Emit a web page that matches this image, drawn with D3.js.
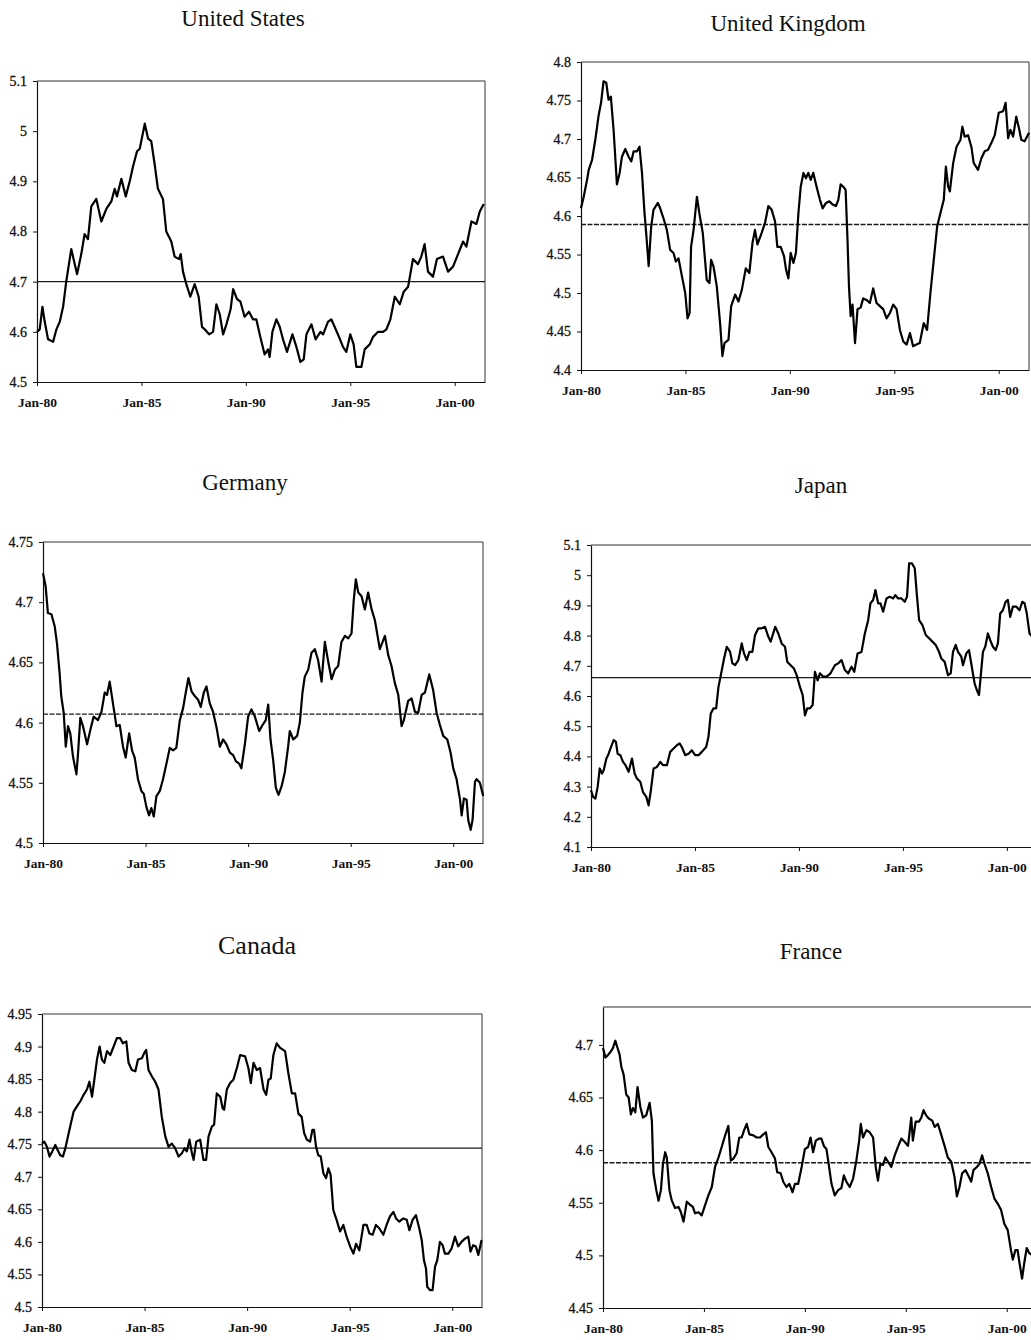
<!DOCTYPE html>
<html>
<head>
<meta charset="utf-8">
<script src="https://cdn.jsdelivr.net/npm/d3@7"></script>
<style>
  body { margin: 0; background: #fff; }
  svg { display: block; }
  svg text { font-family: 'Liberation Serif', 'Times New Roman', serif; }
</style>
</head>
<body>
<svg id="chart" width="1031" height="1340"></svg>
<script>
// Time is measured in years since January 1980.
const xTickYears = [0, 5, 10, 15, 20];
const xTickLabels = ["Jan-80", "Jan-85", "Jan-90", "Jan-95", "Jan-00"];
const xSpan = [0, 21.45];

const countryNames = ["United States", "United Kingdom", "Germany", "Japan", "Canada", "France"];

// [years since Jan-80, log level]
const usSeries = [[0.00,4.600],[0.13,4.605],[0.26,4.650],[0.37,4.620],[0.53,4.585],[0.77,4.580],[0.93,4.605],[1.09,4.620],[1.25,4.650],[1.40,4.700],[1.64,4.765],[1.92,4.715],[2.12,4.755],[2.28,4.795],[2.44,4.785],[2.60,4.850],[2.84,4.865],[3.08,4.820],[3.32,4.845],[3.56,4.860],[3.72,4.885],[3.83,4.870],[4.04,4.905],[4.25,4.870],[4.44,4.900],[4.60,4.930],[4.79,4.960],[4.92,4.965],[5.04,4.990],[5.16,5.015],[5.32,4.985],[5.47,4.980],[5.63,4.935],[5.79,4.885],[6.03,4.865],[6.19,4.800],[6.43,4.780],[6.59,4.750],[6.80,4.745],[6.88,4.755],[6.99,4.720],[7.15,4.695],[7.34,4.670],[7.55,4.695],[7.74,4.670],[7.90,4.610],[8.03,4.605],[8.24,4.595],[8.43,4.600],[8.59,4.655],[8.75,4.635],[8.91,4.595],[9.07,4.615],[9.27,4.645],[9.39,4.685],[9.58,4.665],[9.74,4.660],[9.94,4.630],[10.15,4.640],[10.34,4.625],[10.50,4.625],[10.69,4.590],[10.90,4.555],[11.06,4.565],[11.14,4.550],[11.27,4.600],[11.46,4.625],[11.62,4.610],[11.78,4.585],[11.97,4.560],[12.23,4.595],[12.42,4.570],[12.61,4.540],[12.77,4.545],[12.90,4.595],[13.14,4.615],[13.34,4.585],[13.57,4.600],[13.70,4.595],[13.93,4.620],[14.09,4.625],[14.25,4.610],[14.46,4.590],[14.65,4.570],[14.81,4.560],[15.00,4.595],[15.16,4.575],[15.29,4.530],[15.53,4.530],[15.69,4.565],[15.93,4.575],[16.09,4.590],[16.33,4.600],[16.57,4.600],[16.73,4.605],[16.92,4.625],[17.13,4.670],[17.37,4.655],[17.56,4.680],[17.77,4.690],[18.00,4.745],[18.24,4.735],[18.40,4.750],[18.56,4.775],[18.72,4.720],[18.96,4.710],[19.15,4.745],[19.44,4.750],[19.68,4.720],[19.92,4.730],[20.16,4.755],[20.40,4.780],[20.56,4.770],[20.80,4.820],[21.04,4.815],[21.20,4.840],[21.39,4.855]];

const ukSeries = [[0.00,4.610],[0.13,4.625],[0.29,4.647],[0.37,4.660],[0.53,4.673],[0.69,4.700],[0.84,4.730],[0.96,4.747],[1.08,4.775],[1.21,4.773],[1.32,4.751],[1.43,4.755],[1.56,4.712],[1.72,4.641],[1.85,4.656],[1.96,4.677],[2.12,4.687],[2.28,4.677],[2.41,4.671],[2.52,4.684],[2.68,4.684],[2.80,4.690],[2.92,4.656],[3.03,4.608],[3.12,4.578],[3.24,4.535],[3.36,4.586],[3.47,4.608],[3.68,4.617],[3.79,4.610],[3.95,4.597],[4.11,4.582],[4.27,4.556],[4.43,4.552],[4.54,4.541],[4.67,4.545],[4.83,4.522],[4.99,4.500],[5.10,4.467],[5.20,4.474],[5.27,4.560],[5.39,4.582],[5.55,4.625],[5.67,4.603],[5.83,4.578],[6.02,4.517],[6.15,4.513],[6.23,4.543],[6.34,4.535],[6.50,4.509],[6.66,4.461],[6.77,4.418],[6.87,4.435],[7.06,4.439],[7.19,4.483],[7.38,4.498],[7.54,4.489],[7.70,4.504],[7.89,4.532],[8.06,4.526],[8.21,4.565],[8.33,4.582],[8.45,4.563],[8.65,4.578],[8.81,4.591],[8.97,4.613],[9.13,4.608],[9.29,4.593],[9.40,4.560],[9.56,4.560],[9.72,4.548],[9.82,4.530],[9.93,4.519],[10.04,4.552],[10.17,4.539],[10.29,4.552],[10.41,4.604],[10.52,4.638],[10.65,4.656],[10.77,4.649],[10.88,4.656],[11.00,4.647],[11.12,4.656],[11.28,4.638],[11.44,4.621],[11.57,4.610],[11.73,4.617],[11.89,4.619],[12.05,4.615],[12.21,4.613],[12.32,4.621],[12.43,4.641],[12.56,4.638],[12.67,4.634],[12.76,4.569],[12.83,4.509],[12.91,4.470],[13.00,4.485],[13.12,4.435],[13.24,4.479],[13.39,4.481],[13.51,4.493],[13.67,4.491],[13.83,4.487],[13.99,4.506],[14.15,4.487],[14.31,4.483],[14.47,4.479],[14.63,4.467],[14.79,4.474],[14.95,4.485],[15.11,4.479],[15.27,4.452],[15.43,4.437],[15.59,4.433],[15.75,4.448],[15.90,4.431],[16.06,4.433],[16.22,4.435],[16.41,4.461],[16.57,4.452],[16.73,4.500],[16.89,4.543],[17.05,4.586],[17.21,4.604],[17.37,4.621],[17.47,4.664],[17.58,4.638],[17.66,4.632],[17.82,4.669],[17.98,4.690],[18.17,4.699],[18.26,4.716],[18.37,4.703],[18.53,4.705],[18.69,4.690],[18.80,4.669],[19.01,4.660],[19.17,4.675],[19.33,4.684],[19.49,4.686],[19.65,4.695],[19.81,4.705],[20.00,4.734],[20.21,4.736],[20.33,4.747],[20.45,4.701],[20.56,4.712],[20.69,4.703],[20.84,4.729],[20.97,4.714],[21.08,4.699],[21.24,4.697],[21.45,4.708]];

const deSeries = [[0.00,4.724],[0.13,4.713],[0.24,4.691],[0.41,4.690],[0.57,4.680],[0.68,4.666],[0.81,4.641],[0.89,4.622],[1.01,4.608],[1.11,4.580],[1.22,4.597],[1.33,4.591],[1.46,4.572],[1.63,4.557],[1.71,4.575],[1.82,4.604],[1.95,4.597],[2.15,4.582],[2.31,4.594],[2.47,4.605],[2.68,4.602],[2.85,4.609],[3.01,4.625],[3.12,4.623],[3.25,4.634],[3.41,4.616],[3.58,4.597],[3.74,4.598],[3.90,4.580],[4.03,4.571],[4.20,4.591],[4.34,4.577],[4.47,4.571],[4.63,4.553],[4.80,4.543],[4.91,4.541],[5.04,4.530],[5.17,4.523],[5.28,4.529],[5.40,4.522],[5.53,4.539],[5.69,4.543],[5.85,4.553],[6.02,4.566],[6.18,4.579],[6.34,4.577],[6.50,4.579],[6.67,4.602],[6.83,4.612],[6.96,4.625],[7.09,4.637],[7.24,4.626],[7.40,4.622],[7.56,4.619],[7.69,4.613],[7.84,4.625],[7.97,4.630],[8.13,4.616],[8.29,4.609],[8.46,4.596],[8.62,4.580],[8.78,4.586],[8.94,4.582],[9.11,4.575],[9.27,4.573],[9.40,4.568],[9.56,4.566],[9.67,4.562],[9.84,4.582],[10.00,4.605],[10.16,4.611],[10.33,4.605],[10.54,4.593],[10.70,4.598],[10.86,4.602],[10.98,4.615],[11.09,4.586],[11.22,4.569],[11.35,4.546],[11.48,4.540],[11.63,4.547],[11.79,4.559],[11.95,4.580],[12.03,4.593],[12.20,4.586],[12.39,4.589],[12.52,4.600],[12.65,4.625],[12.76,4.638],[12.93,4.644],[13.09,4.658],[13.25,4.661],[13.41,4.652],[13.58,4.634],[13.74,4.667],[13.90,4.651],[14.07,4.636],[14.23,4.644],[14.39,4.647],[14.55,4.667],[14.72,4.672],[14.88,4.670],[15.04,4.674],[15.15,4.702],[15.25,4.719],[15.37,4.708],[15.53,4.705],[15.69,4.694],[15.85,4.708],[16.02,4.694],[16.18,4.685],[16.42,4.661],[16.67,4.672],[16.83,4.656],[16.99,4.647],[17.15,4.633],[17.32,4.623],[17.48,4.597],[17.59,4.602],[17.80,4.618],[17.97,4.620],[18.13,4.609],[18.29,4.608],[18.46,4.623],[18.62,4.625],[18.83,4.640],[19.02,4.627],[19.19,4.608],[19.35,4.598],[19.51,4.589],[19.71,4.586],[19.87,4.575],[20.00,4.562],[20.16,4.553],[20.33,4.536],[20.41,4.523],[20.52,4.537],[20.65,4.536],[20.73,4.519],[20.85,4.511],[20.94,4.519],[21.06,4.551],[21.14,4.553],[21.30,4.550],[21.46,4.539]];

const jpSeries = [[0.00,4.288],[0.10,4.266],[0.21,4.260],[0.32,4.299],[0.42,4.360],[0.53,4.343],[0.61,4.354],[0.74,4.393],[0.85,4.409],[0.96,4.431],[1.09,4.454],[1.20,4.448],[1.28,4.409],[1.41,4.404],[1.54,4.382],[1.66,4.371],[1.81,4.349],[1.97,4.393],[2.10,4.343],[2.21,4.327],[2.37,4.316],[2.50,4.282],[2.66,4.266],[2.77,4.238],[2.88,4.288],[3.01,4.360],[3.17,4.365],[3.33,4.382],[3.46,4.371],[3.65,4.371],[3.81,4.415],[3.97,4.426],[4.13,4.437],[4.26,4.443],[4.37,4.431],[4.53,4.404],[4.69,4.409],[4.85,4.420],[5.01,4.404],[5.17,4.404],[5.33,4.415],[5.54,4.431],[5.65,4.465],[5.76,4.542],[5.89,4.559],[6.02,4.559],[6.13,4.630],[6.26,4.675],[6.40,4.724],[6.53,4.763],[6.69,4.746],[6.80,4.708],[6.93,4.702],[7.09,4.719],[7.25,4.774],[7.36,4.741],[7.49,4.719],[7.62,4.746],[7.76,4.746],[7.89,4.802],[8.05,4.824],[8.21,4.824],[8.37,4.829],[8.53,4.796],[8.64,4.780],[8.74,4.802],[8.86,4.829],[9.01,4.807],[9.17,4.774],[9.33,4.763],[9.44,4.713],[9.60,4.702],[9.76,4.691],[9.89,4.669],[10.05,4.630],[10.18,4.603],[10.29,4.536],[10.40,4.559],[10.53,4.559],[10.66,4.570],[10.77,4.680],[10.90,4.652],[11.01,4.675],[11.17,4.664],[11.33,4.664],[11.52,4.675],[11.73,4.702],[11.89,4.708],[12.05,4.719],[12.21,4.686],[12.37,4.675],[12.53,4.697],[12.66,4.680],[12.82,4.741],[13.01,4.746],[13.17,4.807],[13.33,4.851],[13.44,4.907],[13.57,4.918],[13.68,4.951],[13.81,4.907],[13.92,4.907],[14.05,4.879],[14.21,4.923],[14.37,4.929],[14.53,4.923],[14.64,4.934],[14.77,4.923],[14.93,4.923],[15.09,4.912],[15.20,4.929],[15.30,5.039],[15.44,5.039],[15.57,5.023],[15.68,4.929],[15.78,4.851],[15.94,4.835],[16.10,4.802],[16.26,4.791],[16.42,4.780],[16.58,4.769],[16.74,4.746],[16.85,4.724],[17.01,4.713],[17.17,4.669],[17.30,4.675],[17.41,4.746],[17.54,4.769],[17.65,4.746],[17.81,4.730],[17.89,4.702],[18.05,4.741],[18.18,4.752],[18.34,4.686],[18.45,4.641],[18.56,4.619],[18.66,4.603],[18.77,4.686],[18.85,4.746],[18.96,4.763],[19.09,4.807],[19.20,4.785],[19.33,4.763],[19.46,4.752],[19.57,4.774],[19.68,4.873],[19.81,4.884],[19.94,4.912],[20.05,4.918],[20.16,4.862],[20.29,4.896],[20.45,4.896],[20.61,4.884],[20.74,4.912],[20.85,4.907],[20.96,4.873],[21.09,4.807],[21.30,4.790]];

const caSeries = [[0.00,4.751],[0.11,4.754],[0.24,4.746],[0.37,4.731],[0.50,4.739],[0.65,4.749],[0.76,4.741],[0.89,4.733],[1.02,4.731],[1.14,4.744],[1.30,4.767],[1.43,4.785],[1.54,4.800],[1.70,4.808],[1.87,4.816],[2.03,4.826],[2.19,4.834],[2.31,4.846],[2.44,4.823],[2.55,4.849],[2.68,4.880],[2.81,4.900],[2.92,4.880],[3.04,4.875],[3.17,4.893],[3.33,4.887],[3.49,4.900],[3.65,4.913],[3.81,4.913],[3.94,4.905],[4.11,4.908],[4.22,4.875],[4.38,4.864],[4.55,4.862],[4.68,4.880],[4.87,4.882],[4.98,4.890],[5.08,4.895],[5.19,4.864],[5.36,4.854],[5.52,4.846],[5.68,4.834],[5.84,4.792],[6.01,4.762],[6.17,4.746],[6.33,4.751],[6.49,4.744],[6.66,4.731],[6.82,4.736],[6.95,4.744],[7.06,4.739],[7.19,4.757],[7.31,4.736],[7.39,4.726],[7.52,4.754],[7.71,4.757],[7.87,4.726],[8.00,4.726],[8.12,4.762],[8.28,4.777],[8.39,4.780],[8.52,4.828],[8.69,4.823],[8.81,4.805],[8.88,4.803],[9.01,4.834],[9.17,4.844],[9.33,4.849],[9.50,4.867],[9.66,4.887],[9.90,4.885],[10.06,4.867],[10.18,4.844],[10.31,4.875],[10.47,4.864],[10.63,4.867],[10.80,4.834],[10.93,4.826],[11.04,4.849],[11.15,4.851],[11.28,4.887],[11.44,4.905],[11.61,4.898],[11.85,4.893],[12.01,4.859],[12.18,4.828],[12.34,4.828],[12.50,4.797],[12.66,4.792],[12.78,4.767],[12.91,4.757],[13.07,4.754],[13.18,4.772],[13.26,4.772],[13.36,4.746],[13.47,4.733],[13.59,4.731],[13.72,4.705],[13.85,4.698],[13.96,4.713],[14.07,4.703],[14.20,4.649],[14.37,4.633],[14.53,4.616],[14.69,4.626],[14.85,4.608],[15.02,4.593],[15.18,4.582],[15.31,4.597],[15.47,4.587],[15.67,4.626],[15.83,4.626],[15.96,4.613],[16.12,4.611],[16.28,4.626],[16.44,4.621],[16.64,4.611],[16.80,4.626],[16.96,4.639],[17.13,4.646],[17.26,4.636],[17.42,4.631],[17.61,4.636],[17.78,4.634],[17.91,4.618],[18.07,4.634],[18.23,4.641],[18.39,4.621],[18.51,4.603],[18.62,4.572],[18.72,4.559],[18.78,4.531],[18.91,4.526],[19.04,4.526],[19.16,4.562],[19.27,4.572],[19.40,4.600],[19.53,4.595],[19.64,4.582],[19.81,4.582],[19.97,4.590],[20.13,4.608],[20.29,4.593],[20.45,4.600],[20.62,4.605],[20.78,4.608],[20.89,4.585],[21.02,4.595],[21.15,4.593],[21.27,4.580],[21.43,4.603]];

const frSeries = [[0.00,4.697],[0.12,4.688],[0.23,4.690],[0.36,4.693],[0.49,4.697],[0.61,4.704],[0.72,4.697],[0.82,4.691],[0.91,4.679],[1.02,4.672],[1.15,4.653],[1.27,4.650],[1.38,4.634],[1.48,4.640],[1.60,4.636],[1.71,4.660],[1.85,4.641],[1.98,4.631],[2.14,4.633],[2.31,4.645],[2.42,4.628],[2.50,4.578],[2.64,4.562],[2.75,4.552],[2.87,4.562],[2.97,4.587],[3.08,4.598],[3.16,4.593],[3.29,4.562],[3.41,4.552],[3.57,4.545],[3.74,4.546],[3.86,4.541],[3.99,4.532],[4.15,4.551],[4.32,4.548],[4.45,4.546],[4.56,4.540],[4.73,4.541],[4.89,4.538],[5.06,4.548],[5.22,4.557],[5.39,4.565],[5.55,4.584],[5.72,4.593],[5.88,4.603],[6.05,4.614],[6.21,4.623],[6.33,4.590],[6.46,4.592],[6.62,4.597],[6.75,4.612],[6.87,4.612],[6.99,4.619],[7.12,4.625],[7.25,4.615],[7.45,4.614],[7.61,4.612],[7.78,4.612],[7.94,4.615],[8.07,4.617],[8.19,4.603],[8.35,4.598],[8.52,4.592],[8.63,4.579],[8.80,4.578],[8.93,4.570],[9.09,4.565],[9.23,4.568],[9.39,4.560],[9.51,4.568],[9.67,4.568],[9.84,4.584],[10.00,4.601],[10.16,4.603],[10.28,4.612],[10.41,4.598],[10.54,4.609],[10.71,4.611],[10.82,4.611],[10.94,4.604],[11.07,4.601],[11.20,4.584],[11.32,4.568],[11.48,4.557],[11.65,4.562],[11.81,4.564],[11.93,4.576],[12.06,4.570],[12.22,4.565],[12.39,4.573],[12.55,4.590],[12.69,4.609],[12.77,4.625],[12.88,4.612],[13.05,4.619],[13.21,4.617],[13.38,4.612],[13.51,4.584],[13.62,4.571],[13.74,4.587],[13.87,4.586],[13.99,4.593],[14.12,4.589],[14.28,4.584],[14.45,4.595],[14.61,4.603],[14.78,4.611],[14.94,4.608],[15.11,4.604],[15.27,4.631],[15.35,4.609],[15.49,4.627],[15.65,4.627],[15.77,4.631],[15.88,4.638],[16.01,4.633],[16.14,4.630],[16.31,4.628],[16.43,4.622],[16.59,4.625],[16.75,4.615],[16.92,4.604],[17.08,4.593],[17.25,4.589],[17.41,4.575],[17.53,4.556],[17.66,4.565],[17.79,4.578],[17.96,4.581],[18.12,4.575],[18.24,4.570],[18.35,4.581],[18.52,4.584],[18.65,4.587],[18.78,4.595],[18.90,4.587],[19.06,4.578],[19.23,4.565],[19.39,4.554],[19.56,4.549],[19.72,4.543],[19.88,4.530],[20.05,4.524],[20.21,4.505],[20.30,4.496],[20.43,4.505],[20.54,4.505],[20.63,4.493],[20.76,4.478],[20.87,4.493],[20.99,4.507],[21.12,4.502],[21.30,4.500]];

// Sample means drawn as horizontal reference lines
const meanLevels = [4.700, 4.589, 4.607, 4.661, 4.744, 4.588];

// Value axis ranges and tick values
const yDomains = [[4.5, 5.1], [4.4, 4.8], [4.5, 4.75], [4.1, 5.1], [4.5, 4.95], [4.45, 4.736]];
const yTickValues = [
  [4.5, 4.6, 4.7, 4.8, 4.9, 5.0, 5.1],
  [4.4, 4.45, 4.5, 4.55, 4.6, 4.65, 4.7, 4.75, 4.8],
  [4.5, 4.55, 4.6, 4.65, 4.7, 4.75],
  [4.1, 4.2, 4.3, 4.4, 4.5, 4.6, 4.7, 4.8, 4.9, 5.0, 5.1],
  [4.5, 4.55, 4.6, 4.65, 4.7, 4.75, 4.8, 4.85, 4.9, 4.95],
  [4.45, 4.5, 4.55, 4.6, 4.65, 4.7]
];
const allSeries = [usSeries, ukSeries, deSeries, jpSeries, caSeries, frSeries];

// Panel placement on the page
const layout = [
  { left: 37,  right: 485,  top: 81,   bottom: 382,  tx: 243, ty: 26,  ts: 23, dash: null },
  { left: 581, right: 1029, top: 62,   bottom: 370,  tx: 788, ty: 31,  ts: 23, dash: "5,1.5" },
  { left: 43,  right: 483,  top: 542,  bottom: 843,  tx: 245, ty: 490, ts: 23, dash: "5,1.5" },
  { left: 591, right: 1037, top: 545,  bottom: 847,  tx: 821, ty: 493, ts: 23, dash: null },
  { left: 42,  right: 482,  top: 1014, bottom: 1307, tx: 257, ty: 954, ts: 26, dash: null },
  { left: 603, right: 1036, top: 1007, bottom: 1308, tx: 811, ty: 959, ts: 23, dash: "5,1.5" }
];

const FONT = "'Liberation Serif', 'Times New Roman', serif";
const svg = d3.select("#chart");
svg.append("rect").attr("width", 1031).attr("height", 1340).attr("fill", "#fff");

const yFmt = d => String(+d.toFixed(2));

countryNames.forEach((name, i) => {
  const L = layout[i];
  const x = d3.scaleLinear().domain(xSpan).range([L.left, L.right]);
  const y = d3.scaleLinear().domain(yDomains[i]).range([L.bottom, L.top]);
  const g = svg.append("g");

  // title
  g.append("text")
    .attr("x", L.tx).attr("y", L.ty)
    .attr("text-anchor", "middle")
    .style("font-family", FONT)
    .style("font-size", L.ts + "px")
    .attr("fill", "#111")
    .text(name);

  // top and right border of the plot box
  g.append("path")
    .attr("d", `M${L.left},${L.top}H${L.right}V${L.bottom}`)
    .attr("fill", "none")
    .attr("stroke", "#333")
    .attr("stroke-width", 1);

  // value axis
  const yAxis = g.append("g")
    .attr("transform", `translate(${L.left},0)`)
    .call(d3.axisLeft(y).tickValues(yTickValues[i]).tickFormat(yFmt)
      .tickSize(4).tickSizeOuter(0).tickPadding(6));
  yAxis.attr("font-family", null).attr("font-size", null);
  yAxis.selectAll("text")
    .style("font-family", FONT).style("font-size", "14px")
    .attr("fill", "#111").attr("stroke", "#111").attr("stroke-width", 0.3);

  // time axis
  const xAxis = g.append("g")
    .attr("transform", `translate(0,${L.bottom})`)
    .call(d3.axisBottom(x).tickValues(xTickYears).tickFormat((d, k) => xTickLabels[k])
      .tickSize(4).tickSizeOuter(0).tickPadding(11));
  xAxis.attr("font-family", null).attr("font-size", null);
  xAxis.selectAll("text")
    .style("font-family", FONT).style("font-size", "13.5px")
    .style("font-weight", "bold").attr("fill", "#111");

  [yAxis, xAxis].forEach(a => {
    a.select(".domain").attr("stroke", "#111").attr("stroke-width", 1.2);
    a.selectAll(".tick line").attr("stroke", "#111").attr("stroke-width", 1);
  });

  // mean level
  g.append("line")
    .attr("x1", L.left).attr("x2", L.right)
    .attr("y1", y(meanLevels[i])).attr("y2", y(meanLevels[i]))
    .attr("stroke", "#1a1a1a")
    .attr("stroke-width", 1.4)
    .attr("stroke-dasharray", L.dash);

  // series
  const line = d3.line().x(d => x(d[0])).y(d => y(d[1]));
  g.append("path")
    .datum(allSeries[i])
    .attr("d", line)
    .attr("fill", "none")
    .attr("stroke", "#000")
    .attr("stroke-width", 2.2)
    .attr("stroke-linejoin", "round");
});
</script>
</body>
</html>
